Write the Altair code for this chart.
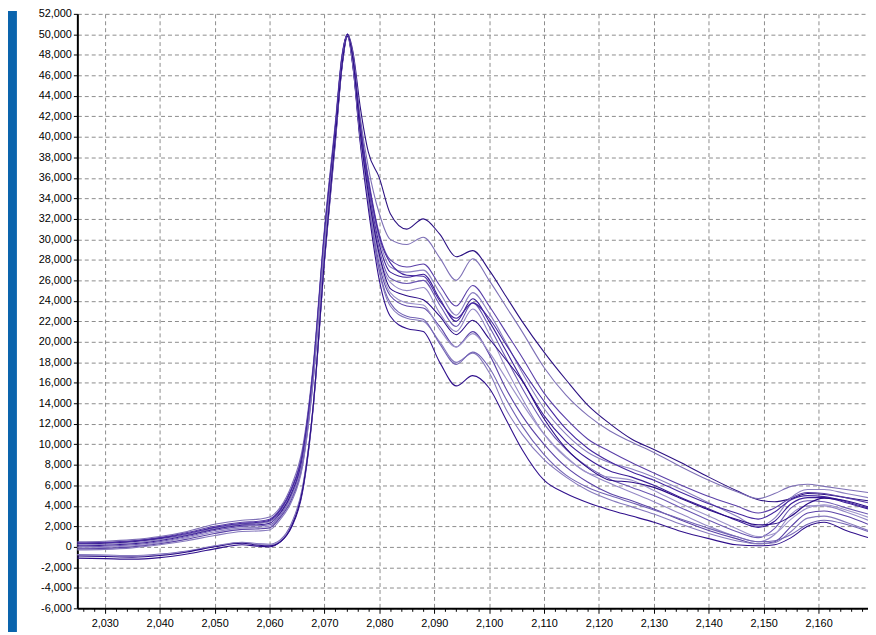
import altair as alt
import pandas as pd

# wavenumber grid (x) shared by all spectra
X = [2025, 2030, 2035, 2040, 2045, 2050, 2055, 2058, 2060,
     2062, 2064, 2066, 2068, 2070, 2072,
     2073.2, 2074.2, 2075.2, 2076.5, 2078, 2080, 2082,
     2085, 2088, 2091, 2094, 2097, 2100,
     2103, 2106, 2110, 2114, 2118, 2122, 2126, 2130,
     2135, 2140, 2145, 2149, 2152, 2155, 2158, 2161, 2165, 2169]

s01 = [300, 350, 500, 800, 1200, 1800, 2200, 2300, 2500,
       3400, 5200, 8600, 17200, 30200, 41000,
       47800, 50000, 48300, 43000, 38500, 36000, 32500,
       31000, 32000, 30500, 28300, 28900, 27000,
       24500, 22000, 19000, 16300, 13800, 12000, 10500, 9500,
       8200, 6800, 5500, 4600, 4400, 4700, 5200, 5100, 4800, 4500]
s02 = [500, 550, 700, 1000, 1500, 2200, 2600, 2700, 2900,
       3900, 6000, 9600, 18000, 31000, 41500,
       48000, 49900, 48000, 42000, 37000, 32500, 30000,
       29500, 30200, 28200, 26000, 28100, 26000,
       23500, 21000, 17500, 14800, 12800, 11300, 10200, 9200,
       7800, 6500, 5400, 4700, 5200, 5900, 6100, 5900, 5600, 5300]
s03 = [400, 450, 600, 900, 1400, 2000, 2400, 2500, 2700,
       3700, 5700, 9200, 17700, 30700, 41200,
       47800, 50000, 47800, 41500, 36000, 30500, 28000,
       27300, 27600, 25500, 23500, 25500, 23500,
       21000, 18500, 15000, 12500, 10500, 9300, 8200, 7200,
       6000, 4900, 4000, 3300, 3800, 4800, 5300, 5200, 4800, 4300]
s04 = [200, 250, 400, 700, 1200, 1800, 2200, 2300, 2450,
       3500, 5500, 9000, 17500, 30500, 41000,
       47500, 50000, 47700, 41000, 35500, 30000, 27300,
       26800, 27000, 24800, 22600, 24800, 22800,
       20000, 17000, 13500, 11000, 9200, 8200, 7600, 6800,
       5600, 4300, 3000, 2000, 2800, 4800, 5600, 5600, 5200, 4800]
s05 = [100, 150, 300, 600, 1100, 1700, 2100, 2150, 2300,
       3300, 5200, 8700, 17200, 30300, 40800,
       47500, 50000, 47500, 40800, 35000, 29500, 26800,
       26300, 26600, 24200, 22000, 24200, 22000,
       19200, 16300, 12800, 10300, 8600, 7400, 6800, 6000,
       4800, 3700, 2600, 1900, 2500, 4200, 4800, 4800, 4300, 3700]
s06 = [0, 50, 200, 500, 1000, 1600, 2000, 2050, 2150,
       3100, 5000, 8400, 17000, 30000, 40500,
       47300, 50000, 47300, 40500, 34800, 29000, 26200,
       25700, 26000, 23600, 21500, 23800, 21500,
       18500, 15500, 12000, 9500, 7800, 6600, 5800, 5000,
       3800, 2600, 1500, 900, 1800, 3800, 4500, 4400, 3800, 3200]
s07 = [-100, -50, 100, 400, 900, 1450, 1850, 1900, 2000,
       3000, 4800, 8200, 16800, 29800, 40300,
       47200, 50000, 47200, 40300, 34500, 28500, 25800,
       25000, 25300, 22800, 21000, 23200, 20800,
       17500, 14500, 11000, 8700, 7200, 6200, 5300, 4400,
       3200, 2000, 1000, 500, 1200, 3200, 4000, 4000, 3400, 2600]
s08 = [350, 400, 550, 850, 1300, 1900, 2300, 2400, 2600,
       3600, 5600, 9100, 17600, 30600, 41000,
       47700, 50000, 47600, 41200, 35700, 30300, 27700,
       26500, 26400, 24000, 22300, 23800, 22300,
       19800, 17300, 14200, 11500, 9600, 8300, 7300, 6500,
       5300, 4200, 3300, 2700, 3400, 4600, 5000, 4900, 4400, 3800]
s09 = [-200, -150, 0, 300, 750, 1300, 1700, 1750, 1850,
       2900, 4600, 8000, 16600, 29600, 40000,
       47000, 50000, 47000, 40000, 34000, 27500, 24500,
       23500, 23300, 21500, 19500, 21000, 18800,
       15500, 12800, 10000, 7800, 6300, 5200, 4500, 3700,
       2600, 1600, 800, 300, 500, 2000, 3300, 3500, 3000, 2200]
s10 = [-300, -250, -100, 200, 600, 1100, 1500, 1550, 1650,
       2700, 4400, 7800, 16400, 29400, 39800,
       46800, 50000, 46800, 39800, 33500, 26800, 23500,
       22300, 22000, 20000, 18000, 18900, 17000,
       13500, 11000, 8500, 6800, 5500, 4600, 3900, 3200,
       2200, 1300, 600, 300, 400, 1500, 2800, 3000, 2400, 1600]
s11 = [-1100, -1150, -1200, -1050, -700, -200, 200, 50, 0,
       500, 1900, 5300, 13800, 27800, 39500,
       46800, 49800, 46800, 39500, 33000, 26000, 22500,
       21300, 21000, 18000, 15700, 16700, 15500,
       12500, 9500, 6500, 5200, 4300, 3600, 3000, 2400,
       1500, 800, 200, 100, 200, 900, 2000, 2400, 1600, 900]
s12 = [-750, -800, -850, -700, -400, 100, 450, 300, 250,
       700, 2300, 5800, 14000, 28000, 39800,
       47000, 50000, 47000, 40000, 33800, 27000, 23800,
       22500, 22200, 19800, 17800, 19000, 17500,
       14500, 11800, 9000, 7000, 5800, 5000, 4300, 3600,
       2700, 1800, 1000, 500, 600, 1200, 2200, 2600, 2200, 1500]
s13 = [-800, -850, -900, -800, -450, 50, 400, 250, 200,
       600, 2100, 5600, 14000, 28000, 39700,
       47000, 50000, 47200, 40300, 34200, 28000, 24800,
       23800, 23600, 21200, 19500, 20800, 19000,
       16500, 14000, 11000, 8800, 7200, 6800, 6500, 5500,
       4200, 3000, 1800, 1000, 1300, 2700, 3800, 4100, 3600, 2900]
s14 = [-900, -950, -1000, -850, -500, 0, 350, 150, 100,
       500, 2000, 5500, 14000, 28000, 40000,
       47000, 50000, 47500, 40500, 34500, 28500, 25200,
       24500, 24100, 22500, 20700, 22100, 20300,
       18300, 16200, 12500, 9600, 7700, 6500, 6300, 5800,
       4700, 3600, 2700, 2150, 2250, 3000, 4200, 4750, 4500, 3900]

series_names = ["s01", "s02", "s03", "s04", "s05", "s06", "s07",
                "s08", "s09", "s10", "s11", "s12", "s13", "s14"]
series_vals = [s01, s02, s03, s04, s05, s06, s07,
               s08, s09, s10, s11, s12, s13, s14]
line_colors = ["#2c1182", "#7e70b6", "#5a3fa8", "#8b7fc0", "#3b1d97", "#6b57b2",
               "#9488c6", "#4527a0", "#5b43a7", "#8679bd", "#30108c", "#7262b4",
               "#9d93ca", "#2a0b86"]
line_widths = [1.1, 1.1, 1.1, 1.1, 1.1, 1.1, 1.1, 1.1, 1.1, 1.1, 1.3, 1.1, 1.1, 2.4]

y_ticks = list(range(-6000, 52001, 2000))
x_ticks = list(range(2026, 2170, 2))

rows = []
for name, vals in zip(series_names, series_vals):
    for xv, yv in zip(X, vals):
        rows.append({"wn": xv, "val": yv, "series": name})
df = pd.DataFrame(rows)

FONT = "Liberation Sans"
major = "datum.value % 10 === 0"

x_axis = alt.Axis(
    values=x_ticks, title=None, grid=True,
    gridColor="#8c8c8c", gridDash=[4, 3], gridWidth=1,
    gridOpacity={"condition": {"test": major, "value": 1}, "value": 0},
    domainColor="#000000", domainWidth=2,
    tickColor="#000000",
    tickSize={"condition": {"test": major, "value": 5}, "value": 3},
    labelExpr="datum.value % 10 === 0 ? format(datum.value, ',d') : ''",
    labelFont=FONT, labelFontSize=11, labelColor="#000000",
    labelPadding=4, labelFlush=False, labelOverlap=False,
)
y_axis = alt.Axis(
    values=y_ticks, title=None, grid=True,
    gridColor="#8c8c8c", gridDash=[4, 3], gridWidth=1,
    domainColor="#000000", domainWidth=2,
    tickColor="#000000", tickSize=4,
    labelExpr="(datum.value < 0 ? '-' : '') + format(abs(datum.value), ',d')",
    labelFont=FONT, labelFontSize=11, labelColor="#000000",
    labelPadding=2, labelFlush=False, labelOverlap=False,
)

lines = alt.Chart(df).mark_line(interpolate="monotone").encode(
    x=alt.X("wn:Q", scale=alt.Scale(domain=[2025, 2169], nice=False, zero=False), axis=x_axis),
    y=alt.Y("val:Q", scale=alt.Scale(domain=[-6000, 52000], nice=False, zero=False), axis=y_axis),
    color=alt.Color("series:N", scale=alt.Scale(domain=series_names, range=line_colors), legend=None),
    strokeWidth=alt.StrokeWidth("series:N", scale=alt.Scale(domain=series_names, range=line_widths), legend=None),
)

# blue frame strip on the left edge (decoration)
frame = alt.Chart(pd.DataFrame({"k": [0]})).mark_rect(color="#0a64ad", clip=False).encode(
    x=alt.value(-70), x2=alt.value(-61), y=alt.value(-3), y2=alt.value(624)
)

chart = alt.layer(frame, lines).properties(
    width=798, height=600,
    autosize=alt.AutoSizeParams(type="none"),
    padding={"left": 70, "top": 3, "right": 0, "bottom": 24},
    background="#ffffff",
).configure_view(stroke="transparent")

chart.save("out.html", embed_options={"renderer": "svg", "actions": False})
